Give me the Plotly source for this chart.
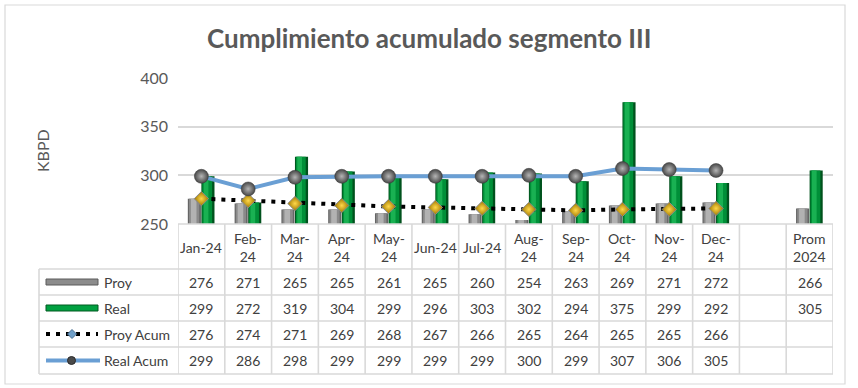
import plotly.graph_objects as go

# ---------------- data ----------------
categories = ["Jan-24", "Feb-24", "Mar-24", "Apr-24", "May-24", "Jun-24", "Jul-24",
              "Aug-24", "Sep-24", "Oct-24", "Nov-24", "Dec-24", "", "Prom 2024"]
header_labels = ["Jan-24", "Feb-<br>24", "Mar-<br>24", "Apr-<br>24", "May-<br>24", "Jun-24", "Jul-24",
                 "Aug-<br>24", "Sep-<br>24", "Oct-<br>24", "Nov-<br>24", "Dec-<br>24", "", "Prom<br>2024"]
proy = [276, 271, 265, 265, 261, 265, 260, 254, 263, 269, 271, 272, None, 266]
real = [299, 272, 319, 304, 299, 296, 303, 302, 294, 375, 299, 292, None, 305]
proy_acum = [276, 274, 271, 269, 268, 267, 266, 265, 264, 265, 265, 266, None, None]
real_acum = [299, 286, 298, 299, 299, 299, 299, 300, 299, 307, 306, 305, None, None]
series_names = ["Proy", "Real", "Proy Acum", "Real Acum"]
y_ticks = [250, 300, 350, 400]

title_text = "Cumplimiento acumulado segmento III"
y_title = "KBPD"

# ---------------- geometry helpers (pixels -> paper) ----------------
W, H = 858, 388
PL, PR, PT, PB = 178, 833, 78, 224


def pxx(p):
    return (p - PL) / (PR - PL)


def pyy(p):
    return (PB - p) / (PB - PT)


x = list(range(len(categories)))

fig = go.Figure()

# cylinder-like bars built from layered strips
gray_layers = [(-0.29, 0.28, "#666666"), (-0.265, 0.22, "#8a8a8a"), (-0.225, 0.12, "#b2b2b2")]
green_layers = [(0.0, 0.28, "#00521d"), (0.02, 0.21, "#008f38"), (0.05, 0.1, "#19b152")]

for off, wd, col in gray_layers:
    fig.add_bar(x=x, y=proy, offset=off, width=wd, marker=dict(color=col, line=dict(width=0)),
                showlegend=False, hoverinfo="skip")
for off, wd, col in green_layers:
    fig.add_bar(x=x, y=real, offset=off, width=wd, marker=dict(color=col, line=dict(width=0)),
                showlegend=False, hoverinfo="skip")

fig.add_scatter(x=x, y=proy_acum, mode="lines+markers", showlegend=False, hoverinfo="skip",
                line=dict(color="black", width=4, dash="4px,6px"),
                marker=dict(symbol="diamond", size=11, color="#a07800",
                            gradient=dict(type="radial", color="#ffd84a"),
                            line=dict(color="#8a8a8a", width=1)))
fig.add_scatter(x=x, y=real_acum, mode="lines+markers", showlegend=False, hoverinfo="skip",
                line=dict(color="#6a9fd4", width=4),
                marker=dict(symbol="circle", size=14, color="#474747",
                            gradient=dict(type="radial", color="#b5b5b5"),
                            line=dict(color="#383838", width=0.5)))

shapes = []
annotations = []
LINE = dict(color="#d9d9d9", width=1.6)

# outer chart border
shapes.append(dict(type="rect", xref="paper", yref="paper", x0=pxx(5), x1=pxx(845),
                   y0=pyy(384), y1=pyy(5), line=dict(color="#d9d9d9", width=1.2)))

# data table grid
row_edges = [269, 295, 321, 347, 374]
row_centers = [282, 308, 334, 360.5]
for k in range(len(categories) + 1):
    shapes.append(dict(type="line", xref="x", yref="paper", x0=k - 0.5, x1=k - 0.5,
                       y0=pyy(224), y1=pyy(374), line=LINE))
shapes.append(dict(type="line", xref="paper", yref="paper", x0=pxx(39), x1=pxx(39),
                   y0=pyy(269), y1=pyy(374), line=LINE))
shapes.append(dict(type="line", xref="paper", yref="paper", x0=0, x1=1,
                   y0=pyy(224), y1=pyy(224), line=LINE))
for ry in row_edges:
    shapes.append(dict(type="line", xref="paper", yref="paper", x0=pxx(39), x1=1,
                       y0=pyy(ry), y1=pyy(ry), line=LINE))

TXT = dict(size=14, color="#404040")

# header labels
for j, lab in enumerate(header_labels):
    if lab:
        annotations.append(dict(x=j, xref="x", y=pyy(247), yref="paper", text=lab, showarrow=False,
                                xanchor="center", yanchor="middle", font=TXT, align="center"))

# values
for ri, vals in enumerate([proy, real, proy_acum, real_acum]):
    for j, v in enumerate(vals):
        if v is not None:
            annotations.append(dict(x=j, xref="x", y=pyy(row_centers[ri]), yref="paper",
                                    text=str(v), showarrow=False,
                                    xanchor="center", yanchor="middle", font=TXT))
    annotations.append(dict(x=pxx(102), xref="paper", xanchor="left", y=pyy(row_centers[ri]),
                            yref="paper", yanchor="middle", text=series_names[ri], showarrow=False,
                            font=TXT))

# legend keys
kx0, kx1 = pxx(46), pxx(98)
shapes.append(dict(type="rect", xref="paper", yref="paper", x0=kx0, x1=kx1,
                   y0=pyy(285), y1=pyy(279), fillcolor="#8c8c8c", line=dict(color="#5a5a5a", width=1)))
shapes.append(dict(type="rect", xref="paper", yref="paper", x0=kx0, x1=kx1,
                   y0=pyy(311), y1=pyy(305), fillcolor="#00a040", line=dict(color="#005a20", width=1)))
shapes.append(dict(type="line", xref="paper", yref="paper", x0=kx0, x1=kx1,
                   y0=pyy(334), y1=pyy(334), line=dict(color="black", width=4, dash="4px,6px")))
cx, cy, r = 72, 334, 4.5
shapes.append(dict(type="path", xref="paper", yref="paper",
                   path=f"M {pxx(cx)} {pyy(cy - r)} L {pxx(cx + r)} {pyy(cy)} L {pxx(cx)} {pyy(cy + r)} L {pxx(cx - r)} {pyy(cy)} Z",
                   fillcolor="#6f9fc8", line=dict(color="#4a6f90", width=1)))
shapes.append(dict(type="line", xref="paper", yref="paper", x0=kx0, x1=pxx(100),
                   y0=pyy(360.5), y1=pyy(360.5), line=dict(color="#6a9fd4", width=4)))
shapes.append(dict(type="circle", xref="paper", yref="paper", x0=pxx(67.5), x1=pxx(75.5),
                   y0=pyy(364.5), y1=pyy(356.5), fillcolor="#4a4a4a", line=dict(color="#2a2a2a", width=1)))

# title and axis title
annotations.append(dict(x=pxx(429), y=pyy(38), xref="paper", yref="paper", showarrow=False,
                        xanchor="center", yanchor="middle",
                        text=f"<b>{title_text}</b>", font=dict(size=26, color="#595959")))
annotations.append(dict(x=pxx(42), y=pyy(151), xref="paper", yref="paper", showarrow=False,
                        xanchor="center", yanchor="middle",
                        text=y_title, textangle=-90, font=dict(size=16, color="#595959")))

fig.update_layout(
    width=W, height=H,
    margin=dict(l=PL, r=W - PR, t=PT, b=H - PB, autoexpand=False),
    paper_bgcolor="white", plot_bgcolor="white",
    barmode="overlay",
    font=dict(family="Lato", color="#404040"),
    xaxis=dict(range=[-0.5, len(categories) - 0.5], showticklabels=False, showgrid=False,
               zeroline=False, showline=False, fixedrange=True),
    yaxis=dict(range=[250, 400], tickvals=y_ticks, gridcolor="#d9d9d9", gridwidth=1.6,
               zeroline=False, showline=False, ticks="", ticklabelstandoff=9,
               tickfont=dict(size=16, color="#595959"), fixedrange=True),
    shapes=shapes,
    annotations=annotations,
)

fig.write_html("out.html", config={"displayModeBar": False},
               post_script="document.body.style.margin='0';document.body.style.overflow='hidden';")
